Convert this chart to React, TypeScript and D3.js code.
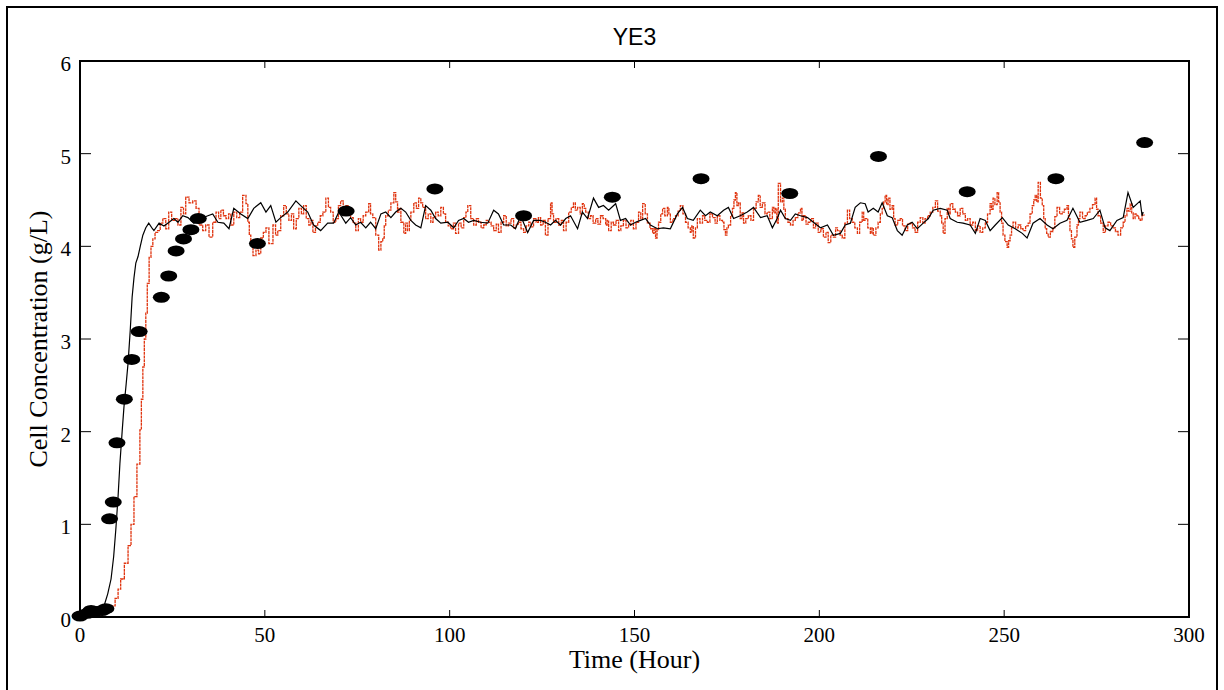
import React from "react";
import * as d3 from "d3";

// observed cell concentration (markers)
const obsTime = [0, 2, 3, 4, 6, 7, 8, 9, 10, 12, 14, 16, 22, 24, 26, 28, 30, 32, 48, 72, 96, 120, 144, 168, 192, 216, 240, 264, 288];
const obsConc = [0.01, 0.04, 0.07, 0.06, 0.07, 0.09, 1.06, 1.24, 1.88, 2.35, 2.78, 3.08, 3.45, 3.68, 3.95, 4.08, 4.18, 4.3, 4.03, 4.38, 4.62, 4.33, 4.53, 4.73, 4.57, 4.97, 4.59, 4.73, 5.12];

// model (black solid line)
const modelTime = [0, 2, 4, 5.5, 6.5, 7.5, 8.4, 9.1, 9.7, 10.3, 10.8, 11.4, 11.9, 12.5, 13, 13.6, 14.1, 14.6, 15.1, 15.7, 16.3, 17, 17.8, 18.6, 19.6, 20, 21.4, 22.7, 24.1, 25.4, 26.5, 27.8, 29.2, 30.8, 32.7, 34.6, 35.9, 37.3, 38.9, 40.3, 41.6, 43.5, 45.4, 47, 48.9, 50.3, 51.6, 53, 54.3, 56.2, 58.4, 59.7, 61.6, 63.2, 65.1, 67, 68.6, 70, 71.9, 73.2, 74.6, 75.9, 77.3, 78.6, 80, 81.4, 82.7, 84.1, 85.4, 86.8, 88.1, 89.5, 90.8, 92.2, 93.5, 94.9, 96.2, 97.6, 99.5, 101.1, 102.4, 103.8, 105.1, 106.5, 108.4, 110.3, 111.9, 113.2, 114.6, 116.5, 117.8, 119.2, 121.1, 122.7, 124.6, 125.9, 127.3, 128.6, 130, 131.4, 132.7, 134.6, 135.9, 137.3, 138.9, 140.3, 141.6, 143, 144.9, 146.2, 147.6, 148.9, 150.3, 151.6, 153, 154.3, 156.2, 157.8, 159.7, 161.6, 163, 164.3, 165.9, 167.8, 169.2, 170.5, 172.4, 174.1, 175.4, 176.8, 178.6, 180.5, 182.2, 184.1, 185.9, 187.3, 188.6, 189.5, 190.8, 192.2, 193.5, 194.9, 196.8, 198.4, 200.3, 202.2, 203.8, 205.7, 207, 208.4, 209.7, 211.1, 212.4, 213.2, 214.6, 215.9, 217, 218.4, 219.7, 221.1, 222.4, 223.8, 225.1, 226.5, 228.1, 229.5, 230.8, 232.7, 234.6, 235.4, 237.3, 238.9, 240.8, 242.2, 243.5, 244.9, 246.2, 247.6, 249.5, 251.1, 253, 254.9, 256.2, 257.8, 259.7, 261.6, 263.2, 265.1, 267, 268.6, 270.5, 272.4, 274.1, 275.9, 277.3, 278.6, 280.5, 282.2, 283.5, 284.9, 286.8, 287.3, 287.6];
const modelConc = [0, 0.01, 0.03, 0.06, 0.12, 0.25, 0.41, 0.65, 0.95, 1.3, 1.66, 2.0, 2.27, 2.52, 2.74, 3.1, 3.45, 3.66, 3.82, 3.89, 4.0, 4.12, 4.2, 4.25, 4.19, 4.17, 4.25, 4.22, 4.26, 4.3, 4.26, 4.33, 4.31, 4.25, 4.3, 4.33, 4.35, 4.26, 4.25, 4.19, 4.41, 4.35, 4.3, 4.41, 4.47, 4.37, 4.44, 4.26, 4.31, 4.37, 4.49, 4.44, 4.37, 4.23, 4.17, 4.25, 4.25, 4.37, 4.25, 4.31, 4.23, 4.26, 4.2, 4.26, 4.19, 4.35, 4.37, 4.31, 4.37, 4.41, 4.37, 4.28, 4.23, 4.2, 4.44, 4.39, 4.3, 4.25, 4.26, 4.2, 4.28, 4.3, 4.26, 4.28, 4.26, 4.25, 4.39, 4.35, 4.23, 4.23, 4.19, 4.33, 4.15, 4.28, 4.28, 4.26, 4.23, 4.28, 4.23, 4.3, 4.33, 4.19, 4.37, 4.3, 4.52, 4.42, 4.44, 4.39, 4.46, 4.28, 4.3, 4.23, 4.26, 4.28, 4.3, 4.23, 4.19, 4.2, 4.19, 4.35, 4.42, 4.3, 4.28, 4.39, 4.33, 4.37, 4.33, 4.39, 4.42, 4.3, 4.33, 4.37, 4.42, 4.31, 4.33, 4.2, 4.3, 4.39, 4.3, 4.28, 4.35, 4.33, 4.31, 4.26, 4.2, 4.23, 4.12, 4.14, 4.23, 4.25, 4.42, 4.47, 4.46, 4.37, 4.41, 4.37, 4.47, 4.33, 4.31, 4.17, 4.12, 4.23, 4.26, 4.19, 4.25, 4.3, 4.39, 4.41, 4.39, 4.3, 4.26, 4.25, 4.23, 4.14, 4.3, 4.28, 4.17, 4.23, 4.31, 4.23, 4.19, 4.14, 4.09, 4.25, 4.3, 4.23, 4.19, 4.25, 4.28, 4.41, 4.26, 4.28, 4.3, 4.39, 4.2, 4.17, 4.28, 4.31, 4.58, 4.42, 4.49, 4.33, 4.37];

// stochastic simulation (red step line)
const simTime = [0, 2, 4, 6, 7.5, 8.4, 9.5, 10.3, 11, 12, 13, 13.8, 14.6, 15.4, 16.2, 16.6, 17, 17.4, 17.8, 18.2, 18.7, 19.2, 19.7, 20.3, 21, 21.7, 22.4, 23.2, 24, 24.8, 25.6, 26.5, 27.3, 28, 28.6, 29.5, 30.5, 31.4, 32.2, 33.2, 34, 34.9, 35.9, 36.8, 37.5, 38.1, 38.8, 39.5, 40.2, 40.8, 41.6, 42.4, 43.2, 44, 44.9, 45.4, 45.8, 46.2, 46.8, 47.6, 48.3, 48.9, 49.6, 50.3, 51.1, 52.2, 52.9, 53.5, 54.3, 55.1, 55.8, 56.5, 57.2, 57.8, 58.5, 59.2, 59.9, 60.5, 61.2, 61.9, 62.5, 63, 63.7, 64.3, 65, 65.7, 66.5, 67.2, 67.8, 68.5, 69.2, 69.9, 70.5, 71.2, 71.9, 72.5, 73.2, 73.9, 74.6, 75.3, 75.9, 76.6, 77.3, 78.1, 78.6, 79.2, 80, 80.8, 81.4, 81.9, 82.3, 82.7, 83.4, 84.1, 84.9, 85.4, 85.9, 86.3, 86.8, 87.6, 88.1, 88.6, 89.1, 89.5, 90.3, 91, 91.6, 92.2, 92.7, 93.5, 94.2, 94.9, 95.5, 96.2, 96.9, 97.6, 98.3, 98.9, 99.6, 100.3, 101, 101.6, 102.4, 103.1, 103.8, 104.4, 104.9, 105.7, 106.5, 107.2, 107.8, 108.5, 109.2, 109.9, 110.5, 111.2, 111.9, 112.6, 113.2, 113.9, 114.6, 115.3, 115.9, 116.6, 117.3, 118, 118.6, 119.3, 120, 120.7, 121.4, 122, 122.7, 123.4, 124, 124.6, 125.3, 125.9, 126.6, 127.3, 127.7, 128.1, 128.8, 129.5, 130.2, 130.8, 131.5, 132.2, 132.9, 133.5, 134, 134.6, 135.3, 135.9, 136.4, 136.8, 137.5, 138.1, 138.8, 139.5, 140.1, 140.8, 141.5, 142.2, 142.6, 143, 143.7, 144.3, 145, 145.7, 146.3, 147, 147.7, 148.4, 149, 149.7, 150.4, 151.1, 151.7, 152.2, 152.9, 153.5, 154.2, 154.9, 155.3, 155.7, 156.1, 156.5, 157.1, 157.6, 158.2, 158.9, 159.3, 159.7, 160.4, 161.1, 161.8, 162.4, 163.1, 163.8, 164.5, 165.1, 165.5, 165.9, 166.5, 167, 167.7, 168.4, 169, 169.7, 170.4, 171.1, 171.8, 172.4, 173.1, 173.8, 174.2, 174.6, 175, 175.4, 176, 176.5, 176.9, 177.3, 177.7, 178.1, 178.6, 179.1, 179.5, 180.1, 180.8, 181.5, 182.2, 182.9, 183.5, 184, 184.6, 185.3, 185.9, 186.6, 187.3, 187.7, 188.1, 188.5, 188.9, 189.5, 190, 190.4, 190.8, 191.5, 192.2, 192.9, 193.5, 194.2, 194.9, 195.3, 195.7, 196.4, 197, 197.7, 198.4, 199, 199.7, 200.4, 201.1, 201.8, 202.4, 203.1, 203.8, 204.4, 204.9, 205.6, 206.2, 206.9, 207.6, 208.2, 208.9, 209.6, 210.3, 210.9, 211.6, 212, 212.4, 213.1, 213.8, 214.2, 214.6, 215.3, 215.9, 216.5, 217, 217.4, 217.8, 218.2, 218.6, 219.1, 219.7, 220.1, 220.5, 221.2, 221.9, 222.5, 223.2, 223.9, 224.6, 225.2, 225.9, 226.6, 227.3, 228, 228.6, 229.3, 230, 230.7, 231.4, 232, 232.7, 233.1, 233.5, 234, 234.6, 235, 235.4, 236.1, 236.8, 237.4, 238.1, 238.8, 239.5, 240.1, 240.8, 241.5, 242.2, 242.8, 243.5, 244.2, 244.9, 245.5, 246.2, 246.6, 247, 247.5, 248.1, 248.5, 248.9, 249.3, 249.7, 250.2, 250.8, 251.2, 251.6, 252, 252.4, 253.1, 253.8, 254.5, 255.1, 255.8, 256.5, 257, 257.6, 258, 258.4, 258.8, 259.2, 259.8, 260.3, 260.7, 261.1, 261.5, 261.9, 262.5, 263.2, 263.7, 264.3, 265, 265.7, 266.3, 267, 267.4, 267.8, 268.2, 268.6, 269.1, 269.7, 270.1, 270.5, 271.2, 271.9, 272.5, 273.2, 273.9, 274.6, 275, 275.4, 276.1, 276.8, 277.4, 278.1, 278.8, 279.5, 280.1, 280.8, 281.5, 282.2, 282.7, 283.2, 283.6, 284.1, 284.5, 284.9, 285.4, 285.9, 286.4, 286.8, 287.3, 287.8];
const simConc = [0.01, 0.01, 0.02, 0.04, 0.07, 0.12, 0.2, 0.3, 0.41, 0.58, 0.77, 1.0, 1.3, 1.65, 2.02, 2.35, 2.7, 3.0, 3.28, 3.6, 3.88, 4.0, 4.08, 4.15, 4.17, 4.25, 4.3, 4.19, 4.37, 4.28, 4.3, 4.23, 4.42, 4.35, 4.53, 4.47, 4.49, 4.41, 4.23, 4.17, 4.23, 4.1, 4.26, 4.37, 4.3, 4.39, 4.33, 4.3, 4.35, 4.23, 4.37, 4.31, 4.37, 4.55, 4.46, 4.26, 4.12, 4.01, 3.9, 3.96, 3.92, 4.09, 4.15, 4.2, 4.03, 4.23, 4.12, 4.17, 4.33, 4.44, 4.35, 4.28, 4.35, 4.19, 4.3, 4.41, 4.35, 4.44, 4.3, 4.23, 4.28, 4.15, 4.22, 4.26, 4.33, 4.37, 4.52, 4.42, 4.37, 4.26, 4.3, 4.44, 4.49, 4.37, 4.44, 4.35, 4.31, 4.25, 4.17, 4.3, 4.26, 4.33, 4.37, 4.46, 4.35, 4.31, 4.12, 3.96, 4.05, 4.09, 4.22, 4.33, 4.39, 4.47, 4.58, 4.48, 4.37, 4.41, 4.26, 4.14, 4.25, 4.17, 4.28, 4.37, 4.47, 4.41, 4.52, 4.47, 4.42, 4.3, 4.35, 4.26, 4.31, 4.37, 4.33, 4.42, 4.35, 4.26, 4.22, 4.19, 4.25, 4.14, 4.25, 4.2, 4.31, 4.37, 4.44, 4.3, 4.23, 4.3, 4.26, 4.2, 4.23, 4.28, 4.26, 4.22, 4.17, 4.24, 4.15, 4.26, 4.33, 4.22, 4.25, 4.3, 4.2, 4.24, 4.26, 4.19, 4.15, 4.22, 4.26, 4.21, 4.3, 4.26, 4.31, 4.23, 4.28, 4.12, 4.3, 4.47, 4.35, 4.26, 4.3, 4.23, 4.28, 4.17, 4.26, 4.37, 4.42, 4.47, 4.39, 4.42, 4.35, 4.46, 4.41, 4.37, 4.3, 4.33, 4.25, 4.3, 4.24, 4.33, 4.3, 4.23, 4.28, 4.17, 4.26, 4.23, 4.28, 4.17, 4.22, 4.28, 4.2, 4.23, 4.28, 4.19, 4.26, 4.37, 4.3, 4.46, 4.35, 4.25, 4.19, 4.14, 4.2, 4.09, 4.18, 4.26, 4.35, 4.41, 4.33, 4.42, 4.35, 4.26, 4.3, 4.33, 4.38, 4.44, 4.35, 4.26, 4.2, 4.15, 4.22, 4.09, 4.2, 4.3, 4.25, 4.33, 4.28, 4.26, 4.35, 4.31, 4.25, 4.33, 4.28, 4.26, 4.18, 4.12, 4.2, 4.23, 4.33, 4.41, 4.5, 4.58, 4.44, 4.47, 4.3, 4.36, 4.25, 4.3, 4.33, 4.28, 4.41, 4.48, 4.55, 4.42, 4.47, 4.35, 4.37, 4.3, 4.42, 4.36, 4.41, 4.25, 4.68, 4.48, 4.52, 4.4, 4.3, 4.26, 4.23, 4.28, 4.31, 4.36, 4.41, 4.28, 4.33, 4.24, 4.26, 4.3, 4.2, 4.25, 4.15, 4.19, 4.1, 4.15, 4.04, 4.12, 4.1, 4.2, 4.17, 4.12, 4.09, 4.25, 4.39, 4.3, 4.26, 4.2, 4.14, 4.26, 4.37, 4.28, 4.3, 4.2, 4.14, 4.2, 4.12, 4.2, 4.26, 4.35, 4.41, 4.48, 4.55, 4.45, 4.52, 4.4, 4.44, 4.3, 4.23, 4.28, 4.3, 4.22, 4.17, 4.24, 4.25, 4.2, 4.15, 4.26, 4.31, 4.25, 4.3, 4.33, 4.37, 4.42, 4.49, 4.38, 4.33, 4.25, 4.14, 4.3, 4.41, 4.35, 4.46, 4.4, 4.37, 4.33, 4.41, 4.35, 4.28, 4.3, 4.23, 4.26, 4.17, 4.22, 4.15, 4.2, 4.26, 4.35, 4.46, 4.4, 4.52, 4.45, 4.58, 4.48, 4.37, 4.25, 4.12, 4.05, 3.99, 4.06, 4.12, 4.2, 4.26, 4.2, 4.23, 4.19, 4.17, 4.22, 4.25, 4.35, 4.44, 4.5, 4.55, 4.48, 4.69, 4.52, 4.44, 4.3, 4.19, 4.14, 4.1, 4.16, 4.2, 4.32, 4.42, 4.35, 4.37, 4.4, 4.44, 4.3, 4.17, 4.08, 3.99, 4.1, 4.23, 4.3, 4.37, 4.3, 4.33, 4.37, 4.41, 4.45, 4.52, 4.4, 4.33, 4.25, 4.15, 4.22, 4.26, 4.22, 4.2, 4.16, 4.12, 4.2, 4.26, 4.33, 4.41, 4.38, 4.46, 4.36, 4.3, 4.35, 4.33, 4.3, 4.28, 4.34, 4.33];

const xTicks = [0, 50, 100, 150, 200, 250, 300];
const yTicks = [0, 1, 2, 3, 4, 5, 6];

const W = 1224;
const H = 690;
const margin = { left: 80, right: 35, top: 61, bottom: 73 };
const FONT = "'Liberation Serif', 'Times New Roman', Times, serif";
const SANS = "'Liberation Sans', Arial, Helvetica, sans-serif";

export default function App() {
  const x = d3.scaleLinear().domain([0, 300]).range([margin.left, W - margin.right]);
  const y = d3.scaleLinear().domain([0, 6]).range([H - margin.bottom, margin.top]);
  const [x0, x1] = x.range();
  const [yb, yt] = y.range();

  const modelLine = d3.line<number>()
    .x((d, i) => x(modelTime[i]))
    .y(d => y(d))
    .curve(d3.curveLinear);

  const simLine = d3.line<number>()
    .x((d, i) => x(simTime[i]))
    .y(d => y(d))
    .curve(d3.curveStepAfter);

  return (
    <div style={{ position: "fixed", left: 0, top: 0 }}>
      <svg width={W} height={H} style={{ display: "block", background: "#fff" }}>
        <rect x={7} y={7} width={W - 14} height={H + 10} fill="none" stroke="#000" strokeWidth={2} />

        <text x={(x0 + x1) / 2} y={45} textAnchor="middle" fontFamily={SANS} fontSize={23}>YE3</text>

        <path d={simLine(simConc) || ""} fill="none" stroke="#e0340f" strokeWidth={1.3}
          strokeDasharray="3,0.7" />
        <path d={modelLine(modelConc) || ""} fill="none" stroke="#000" strokeWidth={1.2} />

        {obsConc.map((v, i) => (
          <ellipse key={i} cx={x(obsTime[i])} cy={y(v)} rx={8.5} ry={5.5} fill="#000" />
        ))}

        <rect x={x0} y={yt} width={x1 - x0} height={yb - yt} fill="none" stroke="#000" strokeWidth={2} />

        {xTicks.map(t => (
          <g key={"x" + t}>
            {t > 0 && t < 300 && (
              <>
                <line x1={x(t)} x2={x(t)} y1={yb} y2={yb - 7} stroke="#000" strokeWidth={1} />
                <line x1={x(t)} x2={x(t)} y1={yt} y2={yt + 7} stroke="#000" strokeWidth={1} />
              </>
            )}
            <text x={x(t)} y={yb + 25} textAnchor="middle" fontFamily={FONT} fontSize={21}>{t}</text>
          </g>
        ))}

        {yTicks.map(v => (
          <g key={"y" + v}>
            {v > 0 && v < 6 && (
              <>
                <line x1={x0} x2={x0 + 11} y1={y(v)} y2={y(v)} stroke="#000" strokeWidth={1} />
                <line x1={x1} x2={x1 - 11} y1={y(v)} y2={y(v)} stroke="#000" strokeWidth={1} />
              </>
            )}
            <text x={x0 - 9} y={y(v) + 10} textAnchor="end" fontFamily={FONT} fontSize={21}>{v}</text>
          </g>
        ))}

        <text x={(x0 + x1) / 2} y={668} textAnchor="middle" fontFamily={FONT} fontSize={26}>Time (Hour)</text>
        <text transform={`translate(47, ${(yt + yb) / 2}) rotate(-90)`} textAnchor="middle"
          fontFamily={FONT} fontSize={26}>Cell Concentration (g/L)</text>
      </svg>
    </div>
  );
}
